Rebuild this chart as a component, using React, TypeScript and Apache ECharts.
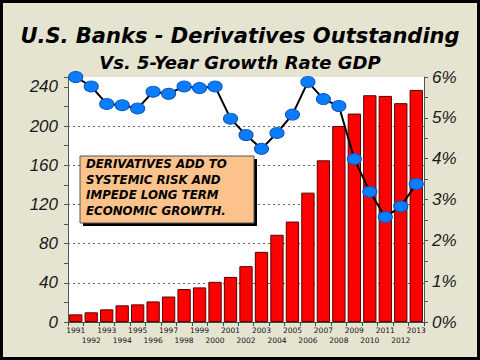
import React, { useEffect, useRef } from "react";
import * as echarts from "echarts";

const years = ["1991","1992","1993","1994","1995","1996","1997","1998","1999","2000","2001","2002","2003","2004","2005","2006","2007","2008","2009","2010","2011","2012","2013"];
const derivatives = [7.8, 9.9, 12.9, 17, 18, 21, 26, 33.6, 35.3, 41, 46, 57, 71.6, 89, 102.5, 132, 165, 200, 212.7, 231.4, 230.7, 223.3, 236.8];
const gdpGrowth5y = [6.0, 5.77, 5.34, 5.31, 5.23, 5.64, 5.59, 5.77, 5.73, 5.77, 4.98, 4.58, 4.24, 4.63, 5.08, 5.88, 5.46, 5.29, 3.99, 3.19, 2.57, 2.83, 3.38];
const gridValues = [40, 80, 120, 160, 200];
const noteLines = ["DERIVATIVES ADD TO", "SYSTEMIC RISK AND", "IMPEDE LONG TERM", "ECONOMIC GROWTH."];

export default function App() {
  const ref = useRef<HTMLDivElement>(null);
  useEffect(() => {
    if (!ref.current) return;
    const chart = echarts.init(ref.current, null, { renderer: "svg" });
    const axisFont = { fontFamily: "Liberation Sans", fontStyle: "italic", fontSize: 17, color: "#1a1a1a" } as any;
    const option: any = {
      animation: false,
      backgroundColor: "#e4e4d0",
      title: [
        {
          text: "U.S. Banks - Derivatives Outstanding",
          left: "center",
          top: 20,
          textStyle: { fontFamily: "DejaVu Sans", fontWeight: "bold", fontStyle: "italic", fontSize: 21, color: "#000" },
        },
        {
          text: "Vs. 5-Year Growth Rate GDP",
          left: "center",
          top: 48,
          textStyle: { fontFamily: "DejaVu Sans", fontWeight: "bold", fontStyle: "italic", fontSize: 18, color: "#000" },
        },
      ],
      grid: { left: 68, right: 56, top: 77, bottom: 38, show: true, backgroundColor: "#ffffff", borderWidth: 0 },
      xAxis: {
        type: "category",
        data: years,
        axisLine: { lineStyle: { color: "#444", width: 1 } },
        axisTick: { show: true, length: 4, lineStyle: { color: "#444" } },
        axisLabel: {
          interval: 0,
          margin: 3,
          fontFamily: "DejaVu Sans",
          fontSize: 7.5,
          lineHeight: 10.5,
          color: "#111",
          formatter: (v: string, i: number) => (i % 2 === 0 ? v : "\n" + v),
        },
      },
      yAxis: [
        {
          type: "value",
          min: 0,
          max: 250,
          interval: 20,
          axisLine: { show: true, lineStyle: { color: "#555" } },
          axisTick: { show: true, length: 4, lineStyle: { color: "#555" } },
          splitLine: { show: false },
          axisLabel: {
            ...axisFont,
            margin: 10,
            formatter: (v: number) => (v % 40 === 0 ? String(v) : ""),
          },
        },
        {
          type: "value",
          min: 0,
          max: 6,
          interval: 0.5,
          axisLine: { show: true, lineStyle: { color: "#555" } },
          axisTick: { show: true, length: 4, lineStyle: { color: "#555" } },
          splitLine: { show: false },
          axisLabel: {
            ...axisFont,
            margin: 8,
            formatter: (v: number) => (v % 1 === 0 ? v + "%" : ""),
          },
        },
      ],
      series: [
        {
          type: "bar",
          data: derivatives,
          yAxisIndex: 0,
          barCategoryGap: "14%",
          itemStyle: { color: "#ff0000", borderColor: "#5a0000", borderWidth: 1 },
          z: 2,
          markLine: {
            silent: true,
            symbol: "none",
            z: 1,
            label: { show: false },
            lineStyle: { color: "#666", type: [2, 3], width: 1 },
            data: gridValues.map((v) => ({ yAxis: v })),
          },
        },
        {
          type: "line",
          data: gdpGrowth5y,
          yAxisIndex: 1,
          z: 5,
          symbol: "circle",
          symbolSize: [14, 11],
          lineStyle: { color: "#000", width: 2 },
          itemStyle: { color: "#0a7dff", borderColor: "#0a55c0", borderWidth: 1 },
        },
      ],
      graphic: [
        { type: "rect", shape: { x: 83, y: 159, width: 174, height: 67 }, style: { fill: "#000" }, z: 10 },
        { type: "rect", shape: { x: 80, y: 156, width: 174, height: 67 }, style: { fill: "#fbc28c", stroke: "#555", lineWidth: 1 }, z: 11 },
        ...noteLines.map((t, i) => ({
          type: "text",
          x: 86,
          y: 164 + i * 15.5,
          z: 12,
          style: {
            text: t,
            fill: "#000",
            font: "italic bold 11.8px 'DejaVu Sans'",
            textVerticalAlign: "middle",
          },
        })),
        { type: "rect", shape: { x: 1.5, y: 1.5, width: 477, height: 357 }, style: { fill: "none", stroke: "#000", lineWidth: 3 }, z: 20 },
      ],
    };
    chart.setOption(option);
    return () => chart.dispose();
  }, []);
  return <div ref={ref} style={{ position: "fixed", left: 0, top: 0, width: 480, height: 360 }} />;
}
